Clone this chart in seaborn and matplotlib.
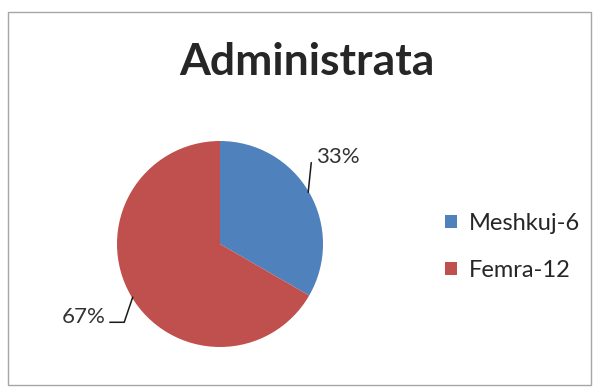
import numpy as np
import matplotlib.pyplot as plt
import seaborn as sns
from matplotlib.patches import Rectangle, Patch

# Te dhenat
kategorite = ["Meshkuj-6", "Femra-12"]
vlerat = [6, 12]
ngjyrat = ["#4F81BD", "#C0504D"]

sns.set_style("white")
plt.rcParams["font.family"] = ["Lato", "DejaVu Sans"]

fig = plt.figure(figsize=(6, 3.9), dpi=100)
fig.patches.append(Rectangle((0.013, 0.013), 0.972, 0.957, transform=fig.transFigure,
                             fill=False, edgecolor="#A6A6A6", linewidth=1))

# pie: qendra ~(220, 244) px, rrezja ~103 px
ax = fig.add_axes([117 / 600, (390 - 347) / 390, 206 / 600, 206 / 390])
wedges, _ = ax.pie(vlerat, colors=ngjyrat, startangle=90, counterclock=False,
                   wedgeprops=dict(linewidth=0))
ax.set_xlim(-1, 1)
ax.set_ylim(-1, 1)
ax.set_aspect("equal")

totali = sum(vlerat)
pct = [f"{v / totali * 100:.0f}%" for v in vlerat]

# 33% - vije pothuajse vertikale
a = np.deg2rad(30)
x0, y0 = np.cos(a), np.sin(a)
ax.plot([x0 - 0.01, x0 + 0.02], [y0, 0.79], color="#1a1a1a", lw=1.1, clip_on=False)
ax.text(0.93, 0.84, pct[0], ha="left", va="center", fontsize=16, color="#333333")

# 67% - vije me kthese
a = np.deg2rad(211)
x0, y0 = np.cos(a), np.sin(a)
ax.plot([x0 + 0.01, -0.93, -1.07], [y0, -0.76, -0.76], color="#1a1a1a", lw=1.1, clip_on=False)
ax.text(-1.11, -0.71, pct[1], ha="right", va="center", fontsize=16, color="#333333")

fig.text(307 / 600, 1 - 62 / 390, "Administrata", ha="center", va="center",
         fontsize=32, fontweight="bold")

handles = [Patch(facecolor=c, edgecolor="none") for c in ngjyrat]
fig.legend(handles, kategorite, loc="center left", bbox_to_anchor=(433 / 600, 1 - 247 / 390),
           frameon=False, fontsize=17, borderpad=0, handlelength=0.5, handleheight=0.5,
           labelspacing=1.1, handletextpad=0.5)

fig.savefig("out.png", dpi=100)
